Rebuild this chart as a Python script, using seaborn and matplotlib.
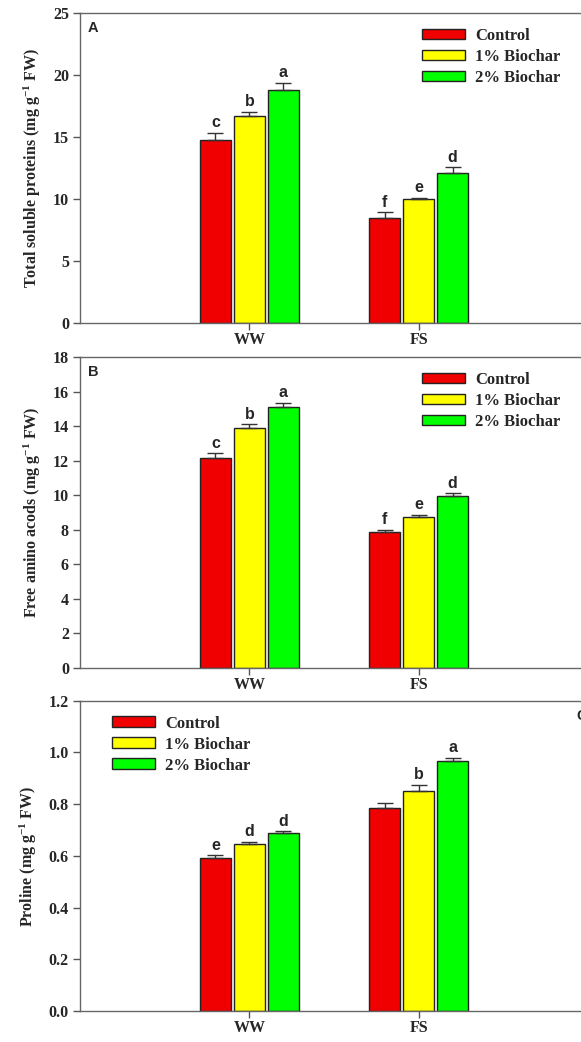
import numpy as np
import pandas as pd
import matplotlib
matplotlib.use("Agg")
import matplotlib.pyplot as plt
import seaborn as sns

# Data
conditions = ["WW", "FS"]
treatments = ["Control", "1% Biochar", "2% Biochar"]

protein_mean = {"Control": [14.75, 8.47], "1% Biochar": [16.7, 10.02], "2% Biochar": [18.77, 12.08]}
protein_err = {"Control": [0.6, 0.46], "1% Biochar": [0.35, 0.08], "2% Biochar": [0.6, 0.48]}
protein_letters = {"Control": ["c", "f"], "1% Biochar": ["b", "e"], "2% Biochar": ["a", "d"]}

amino_mean = {"Control": [12.15, 7.87], "1% Biochar": [13.89, 8.72], "2% Biochar": [15.12, 9.95]}
amino_err = {"Control": [0.26, 0.13], "1% Biochar": [0.2, 0.12], "2% Biochar": [0.2, 0.15]}
amino_letters = {"Control": ["c", "f"], "1% Biochar": ["b", "e"], "2% Biochar": ["a", "d"]}

proline_mean = {"Control": [0.593, 0.786], "1% Biochar": [0.645, 0.851], "2% Biochar": [0.687, 0.967]}
proline_err = {"Control": [0.009, 0.017], "1% Biochar": [0.008, 0.022], "2% Biochar": [0.008, 0.011]}
proline_letters = {"Control": ["e", ""], "1% Biochar": ["d", "b"], "2% Biochar": ["d", "a"]}

colors = ["#F00000", "#FFFF00", "#00FF00"]

sns.set_theme(style="white")
plt.rcParams["font.family"] = ["Liberation Serif", "DejaVu Serif"]
plt.rcParams["mathtext.default"] = "regular"


def to_frame(means, errs, letters):
    rows = []
    for t in treatments:
        for i, c in enumerate(conditions):
            rows.append({"cond": c, "treat": t, "val": means[t][i],
                         "err": errs[t][i], "lab": letters[t][i]})
    return pd.DataFrame(rows)


def panel(ax, df, ylim, yticks, ylabel, tag, tag_pos, legend_loc, fmt):
    sns.barplot(data=df, x="cond", y="val", hue="treat", order=conditions,
                hue_order=treatments, palette=colors, width=0.6, gap=0.08,
                edgecolor="#222222", linewidth=1.0, errorbar=None, ax=ax,
                saturation=1)
    # one-sided error bars and letters from the bar patches
    for cont, t in zip(ax.containers, treatments):
        sub = df[df["treat"] == t].set_index("cond").loc[conditions]
        for bar, (_, r) in zip(cont, sub.iterrows()):
            xc = bar.get_x() + bar.get_width() / 2
            ax.errorbar(xc, r["val"], yerr=[[0], [r["err"]]], fmt="none",
                        ecolor="#333333", elinewidth=1.0, capsize=6, capthick=1.0)
            if r["lab"]:
                ax.annotate(r["lab"], (xc, r["val"] + r["err"]), xytext=(0, 2),
                            textcoords="offset points", ha="center", va="bottom",
                            fontsize=11.5, fontweight="bold",
                            family="Liberation Sans")
    ax.set_xlim(-1, 2)
    ax.set_ylim(*ylim)
    ax.set_yticks(yticks)
    ax.set_yticklabels([fmt.format(v) for v in yticks])
    ax.set_xlabel("")
    ax.set_ylabel(ylabel, fontsize=11.5, fontweight="bold", labelpad=7)
    for lbl in ax.get_xticklabels() + ax.get_yticklabels():
        lbl.set_fontweight("bold")
        lbl.set_fontsize(11.5)
    ax.tick_params(axis="y", direction="out", length=5, width=1,
                   color="#555555", left=True, pad=3)
    ax.tick_params(axis="x", direction="out", length=5, width=1,
                   color="#555555", bottom=True, pad=1.5)
    for s in ["left", "bottom", "top", "right"]:
        ax.spines[s].set_color("#666666")
        ax.spines[s].set_linewidth(1.0)
    ax.text(tag_pos[0], tag_pos[1], tag, transform=ax.transAxes,
            fontsize=10.5, fontweight="bold", family="Liberation Sans",
            ha="left", va="top")
    ax.legend(loc=legend_loc[0], bbox_to_anchor=legend_loc[1],
              frameon=False, handlelength=2.6, handleheight=0.6,
              labelspacing=0.3, handletextpad=0.6, borderaxespad=0.3,
              prop={"family": "Liberation Serif", "weight": "bold", "size": 12})
    return ax


fig = plt.figure(figsize=(5.81, 10.42), dpi=100)
W = 1.012 - 0.1377
axA = fig.add_axes([0.1377, 0.690, W, 0.2975])
axB = fig.add_axes([0.1377, 0.3592, W, 0.2982])
axC = fig.add_axes([0.1377, 0.0298, W, 0.2977])

panel(axA, to_frame(protein_mean, protein_err, protein_letters), (0, 25),
      [0, 5, 10, 15, 20, 25], "Total soluble proteins (mg g$^{-1}$ FW)",
      "A", (0.015, 0.975), ("upper left", (0.65, 0.99)), "{:g}")
panel(axB, to_frame(amino_mean, amino_err, amino_letters), (0, 18),
      list(range(0, 19, 2)), "Free amino acods (mg g$^{-1}$ FW)",
      "B", (0.015, 0.975), ("upper left", (0.65, 0.99)), "{:g}")
panel(axC, to_frame(proline_mean, proline_err, proline_letters), (0, 1.2),
      [0, 0.2, 0.4, 0.6, 0.8, 1.0, 1.2], "Proline (mg g$^{-1}$ FW)",
      "C", (0.978, 0.975), ("upper left", (0.04, 0.99)), "{:.1f}")

fig.savefig("out.png", dpi=100)
